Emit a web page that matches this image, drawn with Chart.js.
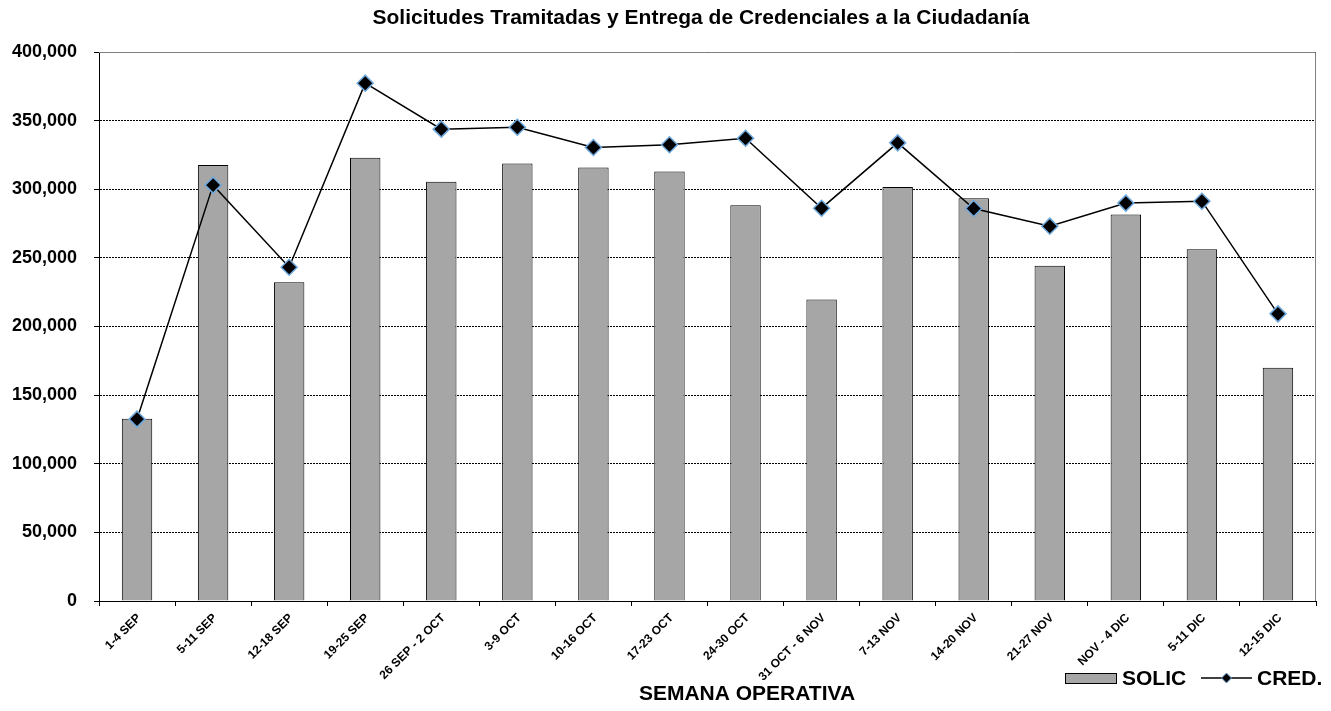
<!DOCTYPE html>
<html>
<head>
<meta charset="utf-8">
<script src="https://cdn.jsdelivr.net/npm/chart.js@4"></script>
<style>
  html, body { margin: 0; padding: 0; background: #fff; }
  #wrap { width: 1331px; height: 711px; }
</style>
</head>
<body>
<div id="wrap"><canvas id="credChart"></canvas></div>
<script>
// DATA
const weeks = ['1-4 SEP', '5-11 SEP', '12-18 SEP', '19-25 SEP', '26 SEP - 2 OCT', '3-9 OCT', '10-16 OCT', '17-23 OCT',
    '24-30 OCT', '31 OCT - 6 NOV', '7-13 NOV', '14-20 NOV', '21-27 NOV', 'NOV - 4 DIC', '5-11 DIC', '12-15 DIC'];
const solic = [132700, 317600, 232300, 322900, 305400, 318700, 315800, 312900, 288400, 219600, 301700, 293500, 244200, 281600, 256300, 170000];
const cred = [132500, 303000, 243200, 377300, 343800, 345200, 330400, 332400, 337200, 286200, 333800, 286000, 273100, 289900, 291300, 209200];
const yTicks = [0, 50000, 100000, 150000, 200000, 250000, 300000, 350000, 400000];

const TITLE = 'Solicitudes Tramitadas y Entrega de Credenciales a la Ciudadanía';
const FONT = "'Liberation Sans', Arial, sans-serif";

// title, plot border, axis title and legend drawn like the excel original
const extras = {
    id: 'extras',
    afterDraw(chart) {
        const c = chart.ctx;
        const a = chart.chartArea;
        c.save();
        // gray plot border top + right
        c.strokeStyle = '#808080';
        c.lineWidth = 1;
        c.beginPath();
        c.moveTo(a.left, a.top + 0.5);
        c.lineTo(a.right - 0.5, a.top + 0.5);
        c.lineTo(a.right - 0.5, a.bottom);
        c.stroke();

        c.fillStyle = '#000';
        c.textBaseline = 'middle';
        c.textAlign = 'center';
        // chart title
        c.font = 'bold 21px ' + FONT;
        c.fillText(TITLE, 701, 18);
        // axis title
        c.fillText('SEMANA OPERATIVA', 747, 694);

        // legend
        const bar = chart.data.datasets[1];
        const line = chart.data.datasets[0];
        const ly = 678;
        c.fillStyle = bar.backgroundColor;
        c.strokeStyle = bar.borderColor;
        c.fillRect(1065, ly - 5, 52, 10);
        c.strokeRect(1065.5, ly - 4.5, 51, 10);
        c.fillStyle = '#000';
        c.textAlign = 'left';
        c.fillText(bar.label, 1122, ly + 1);

        c.strokeStyle = line.borderColor;
        c.lineWidth = 1.5;
        c.beginPath();
        c.moveTo(1201, ly);
        c.lineTo(1252, ly);
        c.stroke();
        c.fillStyle = line.pointBackgroundColor;
        c.strokeStyle = line.pointBorderColor;
        c.lineWidth = 1;
        c.beginPath();
        c.moveTo(1226.5, ly - 5);
        c.lineTo(1231.5, ly);
        c.lineTo(1226.5, ly + 5);
        c.lineTo(1221.5, ly);
        c.closePath();
        c.fill();
        c.stroke();
        c.fillStyle = '#000';
        c.fillText(line.label, 1257, ly + 1);
        c.restore();
    }
};

const ctx = document.getElementById('credChart').getContext('2d');
const credChart = new Chart(ctx, {
    type: 'bar',
    data: {
        labels: weeks,
        datasets: [{
            type: 'line',
            label: 'CRED.',
            data: cred,
            order: 0,
            borderColor: '#000',
            borderWidth: 1.5,
            tension: 0,
            pointStyle: 'rectRot',
            pointRadius: 8,
            pointHoverRadius: 8,
            pointBackgroundColor: '#000',
            pointBorderColor: '#6fa8dc',
            pointBorderWidth: 1.5,
        },
        {
            type: 'bar',
            label: 'SOLIC',
            data: solic,
            order: 1,
            backgroundColor: '#a6a6a6',
            borderColor: '#000',
            borderWidth: 1,
            barPercentage: 0.4,
            categoryPercentage: 1,
        }]
    },
    options: {
        responsive: true,
        maintainAspectRatio: false,
        animation: false,
        layout: {
            padding: { left: 0, right: 15, top: 52, bottom: 0 }
        },
        scales: {
            x: {
                afterFit: function(scale) { scale.height = 110; },
                grid: {
                    drawOnChartArea: false,
                    color: '#000',
                    tickLength: 5,
                    offset: true,
                },
                border: { color: '#000', width: 1 },
                ticks: {
                    color: '#000',
                    minRotation: 45,
                    maxRotation: 45,
                    autoSkip: false,
                    padding: 5,
                    labelOffset: 2,
                    font: { family: FONT, size: 12, weight: 'bold' },
                },
            },
            y: {
                min: 0,
                max: 400000,
                afterFit: function(scale) { scale.width = 99; },
                afterBuildTicks: function(scale) {
                    scale.ticks = yTicks.map(v => ({ value: v }));
                },
                grid: {
                    color: '#000',
                    tickBorderDash: [],
                    tickColor: '#000',
                    tickLength: 5,
                },
                border: { color: '#000', width: 1, dash: [2, 1] },
                ticks: {
                    color: '#000',
                    padding: 17,
                    font: { family: FONT, size: 18, weight: 'bold' },
                    callback: function(value) {
                        return value.toLocaleString('en-US');
                    },
                },
            },
        },
        plugins: {
            legend: { display: false },
            tooltip: { enabled: false },
            title: { display: false },
        },
    },
    plugins: [extras],
});
</script>
</body>
</html>
